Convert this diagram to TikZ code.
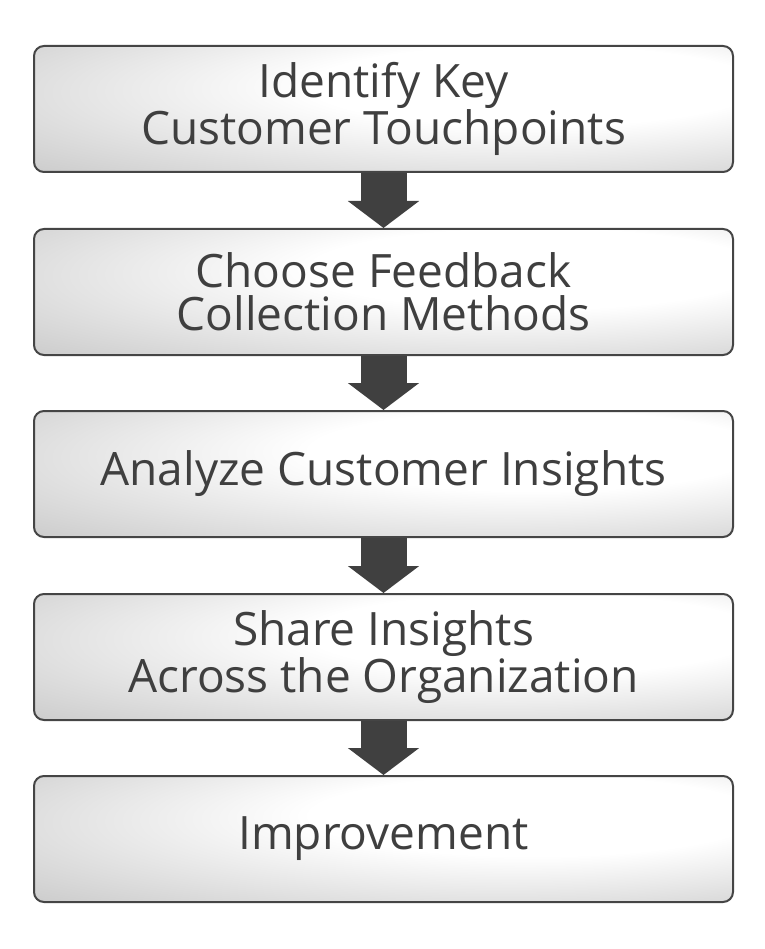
\documentclass[tikz,border=0pt]{standalone}
\usepackage{fontspec}
\setmainfont{Open Sans}
\usepackage{tikz}
\usetikzlibrary{shapes}
\usetikzlibrary{arrows.meta}
\usetikzlibrary{positioning}
\definecolor{boxtext}{HTML}{3F3F3F}
\definecolor{boxline}{HTML}{454545}
\definecolor{arrowfill}{HTML}{404040}
\pgfdeclareradialshading{boxglow}{\pgfpoint{14bp}{12bp}}{color(0bp)=(white); color(16bp)=(white); color(48bp)=(black!24); color(70bp)=(black!36)}
\tikzstyle{etape}=[
        rectangle,
        draw=boxline,
        line width=2pt,
        rounded corners=10pt,
        shading=boxglow,
        minimum width=699pt,
        minimum height=126pt,
        align=center,
        text=boxtext,
        font=\fontsize{46}{43}\selectfont
]
\tikzstyle{suite}=[line width=46pt,arrowfill,-{Triangle[length=27pt,width=70pt]}]

\begin{document}
\begin{tikzpicture}[x=1pt,y=1pt]
\useasboundingbox (0,0) rectangle (764,-949);
\node[etape] (a) at (383.5,-109) {Identify Key\\Customer Touchpoints};
\node[etape] (b) at (383.5,-292) {Choose Feedback\\Collection Methods};
\node[etape] (c) at (383.5,-474) {Analyze Customer Insights};
\node[etape] (d) at (383.5,-657) {Share Insights\\Across the Organization};
\node[etape] (e) at (383.5,-839) {Improvement};
%Drawing Edges
\draw[suite] (a) -- (b);
\draw[suite] (b) -- (c);
\draw[suite] (c) -- (d);
\draw[suite] (d) -- (e);
\end{tikzpicture}
\end{document}
